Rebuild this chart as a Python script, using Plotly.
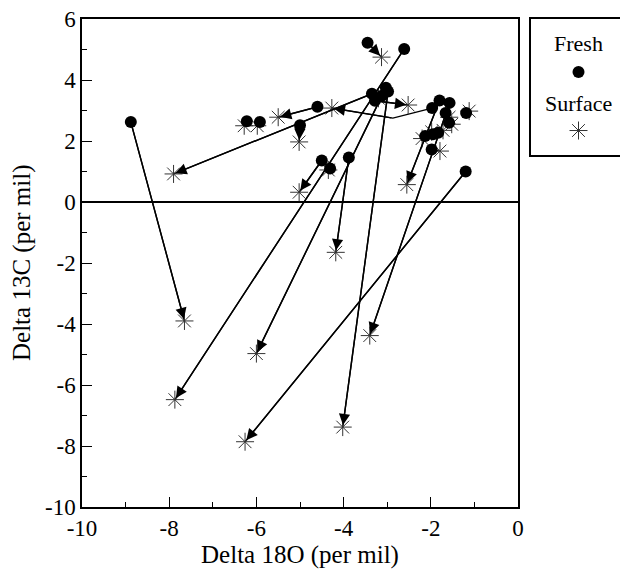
import plotly.graph_objects as go
import math

# ---- data (per mil) ----
fresh_x = [-8.88, -3.35, -6.22, -5.92, -4.60, -5.00, -4.50, -2.61, -3.03, -3.88,
           -2.98, -1.57, -1.20, -3.45, -3.28, -1.97, -1.80, -4.31, -1.66, -1.58,
           -1.19, -2.13, -1.83, -1.95, -1.98, -3.12]
fresh_y = [2.62, 3.55, 2.65, 2.62, 3.12, 2.52, 1.36, 5.02, 3.75, 1.46,
           3.62, 3.25, 1.00, 5.22, 3.32, 3.08, 3.33, 1.10, 2.92, 2.60,
           2.92, 2.16, 2.27, 2.22, 1.72, 3.48]
surf_x = [-7.65, -7.90, -6.28, -5.98, -5.50, -5.02, -5.02, -7.87, -6.00, -4.18,
          -4.02, -3.40, -6.26, -3.13, -2.52, -4.27, -2.55, -4.35, -1.58, -1.52,
          -1.12, -2.20, -1.72, -1.98, -1.79, -3.20]
surf_y = [-3.90, 0.92, 2.50, 2.50, 2.78, 1.97, 0.32, -6.48, -4.97, -1.65,
          -7.38, -4.38, -7.86, 4.75, 3.18, 3.08, 0.57, 1.05, 2.78, 2.55,
          2.98, 2.08, 2.35, 2.30, 1.67, 3.40]
# one path bends before reaching its surface value
bent_index = 15
bend_x, bend_y = -2.87, 2.75

x_ticks = [-10, -8, -6, -4, -2, 0]
y_ticks = [-10, -8, -6, -4, -2, 0, 2, 4, 6]

FONT = "Liberation Serif"
# the page body adds an 8px margin, so the figure is sized to fit the window
W, H = 620, 563
ML, MR, MT, MB = 74, 2, 11, 64
plot_w = W - ML - MR
plot_h = H - MT - MB
main_dom = 436 / plot_w
px_per_x = 436 / 10.0
px_per_y = plot_h / 16.0
STAR = "#333333"

fig = go.Figure()

# connecting lines (drawn as traces under the markers)
for i in range(len(fresh_x)):
    if i == bent_index:
        xs = [fresh_x[i], bend_x, surf_x[i]]
        ys = [fresh_y[i], bend_y, surf_y[i]]
    else:
        xs = [fresh_x[i], surf_x[i]]
        ys = [fresh_y[i], surf_y[i]]
    fig.add_trace(go.Scatter(x=xs, y=ys, mode="lines",
                             line=dict(color="black", width=1.4),
                             hoverinfo="skip", showlegend=False))

fig.add_trace(go.Scatter(x=surf_x, y=surf_y, mode="markers", name="Surface",
                         marker=dict(symbol="asterisk-open", size=15, color=STAR,
                                     line=dict(color=STAR, width=1)),
                         showlegend=False))
fig.add_trace(go.Scatter(x=fresh_x, y=fresh_y, mode="markers", name="Fresh",
                         marker=dict(symbol="circle", size=12, color="black"),
                         showlegend=False))

# arrow heads
annotations = []
for i in range(len(fresh_x)):
    sx, sy = (bend_x, bend_y) if i == bent_index else (fresh_x[i], fresh_y[i])
    dpx = math.hypot((surf_x[i] - sx) * px_per_x, (surf_y[i] - sy) * px_per_y)
    if dpx < 9:
        continue
    annotations.append(dict(x=surf_x[i], y=surf_y[i], ax=sx, ay=sy,
                            xref="x", yref="y", axref="x", ayref="y",
                            text="", showarrow=True, arrowhead=2,
                            arrowsize=1.6, arrowwidth=1.4, arrowcolor="black",
                            standoff=2))

# legend box contents
legend_font = dict(family=FONT, size=22, color="black")
annotations.append(dict(x=0.5, y=0.82, xref="x2", yref="y2", text="Fresh",
                        showarrow=False, font=legend_font))
annotations.append(dict(x=0.5, y=0.38, xref="x2", yref="y2", text="Surface",
                        showarrow=False, font=legend_font))
fig.add_trace(go.Scatter(x=[0.5], y=[0.61], xaxis="x2", yaxis="y2", mode="markers",
                         marker=dict(symbol="circle", size=12, color="black"),
                         showlegend=False, hoverinfo="skip"))
fig.add_trace(go.Scatter(x=[0.5], y=[0.18], xaxis="x2", yaxis="y2", mode="markers",
                         marker=dict(symbol="asterisk-open", size=15, color=STAR,
                                     line=dict(color=STAR, width=1)),
                         showlegend=False, hoverinfo="skip"))

tickfont = dict(family=FONT, size=23, color="black")
titlefont = dict(family=FONT, size=25, color="black")

# y-axis title placed as a rotated annotation
annotations.append(dict(x=(14 - ML) / plot_w, y=0.5, xref="paper", yref="paper",
                        text="Delta 13C (per mil)", textangle=-90, showarrow=False,
                        font=titlefont, xanchor="center", yanchor="middle"))

fig.update_layout(
    width=W, height=H,
    margin=dict(l=ML, r=MR, t=MT, b=MB, autoexpand=False),
    paper_bgcolor="white", plot_bgcolor="white",
    font=dict(family=FONT, color="black"),
    showlegend=False,
    annotations=annotations,
    xaxis=dict(domain=[0, main_dom], range=[-10, 0], tickvals=x_ticks,
               ticktext=[str(v) for v in x_ticks],
               ticks="inside", ticklen=10, tickwidth=1, tickcolor="black",
               minor=dict(dtick=1, ticks="inside", ticklen=5, tickcolor="black"),
               showline=True, linecolor="black", linewidth=1.5, mirror=True,
               showgrid=False, zeroline=False, tickfont=tickfont,
               ticklabeloverflow="allow",
               title=dict(text="Delta 18O (per mil)", font=titlefont, standoff=2)),
    yaxis=dict(range=[-10, 6], tickvals=y_ticks,
               ticktext=[str(v) for v in y_ticks],
               ticks="inside", ticklen=10, tickwidth=1, tickcolor="black",
               minor=dict(dtick=1, ticks="inside", ticklen=5, tickcolor="black"),
               showline=True, linecolor="black", linewidth=1.5, mirror=True,
               showgrid=False, zeroline=True, zerolinecolor="black",
               zerolinewidth=1.5, tickfont=tickfont,
               ticklabeloverflow="allow"),
    xaxis2=dict(domain=[(523 - ML) / plot_w, 1.0], range=[0, 1], anchor="y2",
                showline=True, linecolor="black", linewidth=1.5, mirror=True,
                showticklabels=False, ticks="", showgrid=False, zeroline=False,
                fixedrange=True),
    yaxis2=dict(domain=[(H - MB - 147) / plot_h, 1.0], range=[0, 1],
                anchor="x2", showline=True, linecolor="black", linewidth=1.5,
                mirror=True, showticklabels=False, ticks="", showgrid=False,
                zeroline=False, fixedrange=True),
)

fig.write_html("out.html")
